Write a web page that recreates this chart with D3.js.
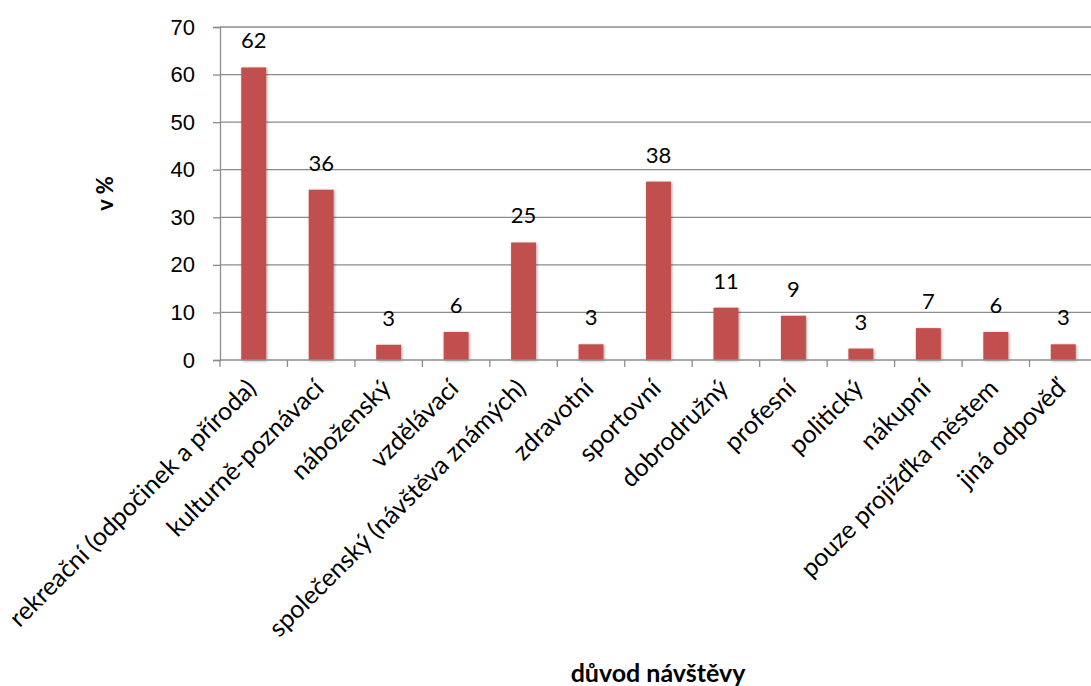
<!DOCTYPE html>
<html>
<head>
<meta charset="utf-8">
<script src="https://cdn.jsdelivr.net/npm/d3@7"></script>
<style>
  body { margin: 0; background: #fff; }
  svg { display: block; font-family: Lato, "Open Sans", sans-serif; }
  .tick text { font-size: 22px; fill: #000; }
</style>
</head>
<body>
<div class="graph"></div>
<script>
// data
const categories = ["rekreační (odpočinek a příroda)", "kulturně-poznávací", "náboženský", "vzdělávací",
  "společenský (návštěva známých)", "zdravotní", "sportovní", "dobrodružný", "profesní",
  "politický", "nákupní", "pouze projížďka městem", "jiná odpověď"];
const values = [61.5, 35.8, 3.2, 5.9, 24.7, 3.3, 37.5, 11.0, 9.3, 2.4, 6.7, 5.9, 3.3];
const labels = ["62", "36", "3", "6", "25", "3", "38", "11", "9", "3", "7", "6", "3"];
const yTicks = [0, 10, 20, 30, 40, 50, 60, 70];

// dimensions
const SIZE = {X: 1091, Y: 686};
const MARGIN = {TOP: 27, LEFT: 220, RIGHT: -6, BOTTOM: 326};
const DIM = {WIDTH: SIZE.X - MARGIN.LEFT - MARGIN.RIGHT, HEIGHT: SIZE.Y - MARGIN.TOP - MARGIN.BOTTOM};

const svg = d3.select(".graph").append("svg")
    .attr("width", SIZE.X)
    .attr("height", SIZE.Y);

// soft shadow under bars
const filter = svg.append("defs").append("filter")
    .attr("id", "shadow")
    .attr("x", "-30%").attr("y", "-10%").attr("width", "160%").attr("height", "130%");
filter.append("feDropShadow")
    .attr("dx", 1).attr("dy", 1).attr("stdDeviation", 1.5)
    .attr("flood-color", "#000").attr("flood-opacity", 0.35);

const graph = svg.append("g")
    .attr("transform", `translate(${MARGIN.LEFT}, ${MARGIN.TOP})`);

// scales
const x = d3.scaleBand()
    .domain(categories)
    .range([0, DIM.WIDTH])
    .paddingInner(0.63)
    .paddingOuter(0.315);

const y = d3.scaleLinear()
    .domain([0, 70])
    .range([DIM.HEIGHT, 0]);

// gridlines
graph.append("g")
    .selectAll("line")
    .data(yTicks.slice(1))
    .join("line")
    .attr("x1", 0).attr("x2", DIM.WIDTH)
    .attr("y1", d => y(d)).attr("y2", d => y(d))
    .attr("stroke", "#8c8c8c")
    .attr("stroke-width", 1.3);

// y axis
const yAxis = graph.append("g")
    .call(d3.axisLeft(y).tickValues(yTicks).tickSize(7).tickPadding(18));
yAxis.select(".domain").attr("stroke", "#8c8c8c").attr("stroke-width", 1.3);
yAxis.selectAll(".tick line").attr("stroke", "#8c8c8c").attr("stroke-width", 1.3);

// bars
graph.append("g")
    .selectAll("rect")
    .data(values)
    .join("rect")
    .attr("x", (d, i) => x(categories[i]))
    .attr("y", d => y(d))
    .attr("width", x.bandwidth())
    .attr("height", d => DIM.HEIGHT - y(d))
    .attr("fill", "#C0504D")
    .attr("filter", "url(#shadow)");

// data labels
graph.append("g")
    .selectAll("text")
    .data(values)
    .join("text")
    .attr("x", (d, i) => x(categories[i]) + x.bandwidth() / 2)
    .attr("y", d => y(d) - 19)
    .attr("text-anchor", "middle")
    .style("font-size", "22px")
    .text((d, i) => labels[i]);

// x axis (ticks between categories)
const boundaries = d3.range(categories.length + 1).map(i => i * DIM.WIDTH / categories.length);
const xAxis = graph.append("g")
    .attr("transform", `translate(0, ${DIM.HEIGHT})`);
xAxis.append("line")
    .attr("x1", 0).attr("x2", DIM.WIDTH)
    .attr("stroke", "#8c8c8c").attr("stroke-width", 1.3);
xAxis.selectAll(".btick")
    .data(boundaries)
    .join("line")
    .attr("class", "btick")
    .attr("x1", d => d).attr("x2", d => d)
    .attr("y1", 0).attr("y2", 7)
    .attr("stroke", "#8c8c8c").attr("stroke-width", 1.3);

xAxis.selectAll(".xlabel")
    .data(categories)
    .join("text")
    .attr("class", "xlabel")
    .attr("text-anchor", "end")
    .attr("transform", d => `translate(${x(d) + x.bandwidth() / 2 + 4}, 30) rotate(-45)`)
    .style("font-size", "25px")
    .text(d => d);

// axis titles
svg.append("text")
    .attr("transform", `translate(113, ${MARGIN.TOP + DIM.HEIGHT / 2}) rotate(-90)`)
    .attr("text-anchor", "middle")
    .style("font-size", "22px")
    .style("font-weight", "bold")
    .text("v %");

svg.append("text")
    .attr("x", 658)
    .attr("y", 682)
    .attr("text-anchor", "middle")
    .style("font-size", "25px")
    .style("font-weight", "bold")
    .text("důvod návštěvy");
</script>
</body>
</html>
